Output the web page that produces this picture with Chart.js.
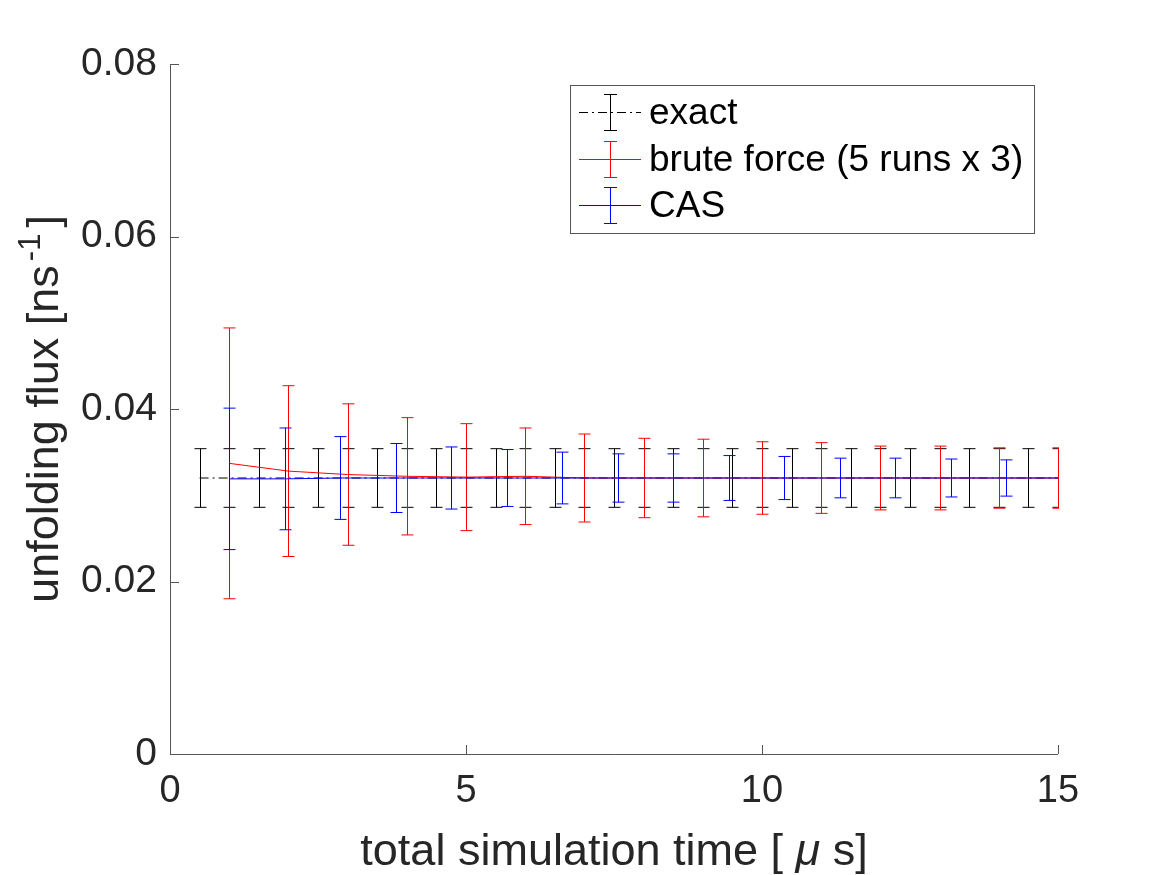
<!DOCTYPE html>
<html lang="en">
<head>
    <meta charset="UTF-8">
    <title>Unfolding flux vs simulation time</title>
    <script src="https://cdn.jsdelivr.net/npm/chart.js"></script>
    <style>
        body { margin: 0; background: #ffffff; }
        #wrap { width: 1167px; height: 875px; }
    </style>
</head>
<body>
<div id="wrap"><canvas id="fluxChart"></canvas></div>
<script>
    // exact solution, sampled every 0.5 us
    const exactX = [0.5, 1, 1.5, 2, 2.5, 3, 3.5, 4, 4.5, 5, 5.5, 6, 6.5, 7, 7.5, 8, 8.5, 9, 9.5, 10, 10.5, 11, 11.5, 12, 12.5, 13, 13.5, 14, 14.5, 15];
    const exactY = [0.032, 0.032, 0.032, 0.032, 0.032, 0.032, 0.032, 0.032, 0.032, 0.032, 0.032, 0.032, 0.032, 0.032, 0.032, 0.032, 0.032, 0.032, 0.032, 0.032, 0.032, 0.032, 0.032, 0.032, 0.032, 0.032, 0.032, 0.032, 0.032, 0.032];
    const exactErr = [0.0034, 0.0034, 0.0034, 0.0034, 0.0034, 0.0034, 0.0034, 0.0034, 0.0034, 0.0034, 0.0034, 0.0034, 0.0034, 0.0034, 0.0034, 0.0034, 0.0034, 0.0034, 0.0034, 0.0034, 0.0034, 0.0034, 0.0034, 0.0034, 0.0034, 0.0034, 0.0034, 0.0034, 0.0034, 0.0034];

    // brute force (5 runs x 3)
    const bruteX = [1, 2, 3, 4, 5, 6, 7, 8, 9, 10, 11, 12, 13, 14, 15];
    const bruteY = [0.0337, 0.0328, 0.0324, 0.0322, 0.0321, 0.0322, 0.0320, 0.0320, 0.0320, 0.0320, 0.0320, 0.0320, 0.0320, 0.0320, 0.0320];
    const bruteErr = [0.0157, 0.0099, 0.0082, 0.0068, 0.0062, 0.0056, 0.0051, 0.0046, 0.0045, 0.0042, 0.0041, 0.0037, 0.0037, 0.0035, 0.0035];

    // CAS
    const casX = [1, 1.9375, 2.875, 3.8125, 4.75, 5.6875, 6.625, 7.5625, 8.5, 9.4375, 10.375, 11.3125, 12.25, 13.1875, 14.125, 15.0625];
    const casY = [0.0319, 0.0319, 0.0320, 0.0320, 0.0320, 0.0320, 0.0320, 0.0320, 0.0320, 0.0320, 0.0320, 0.0320, 0.0320, 0.0320, 0.0320, 0.0320];
    const casErr = [0.0082, 0.0059, 0.0048, 0.0040, 0.0036, 0.0033, 0.0030, 0.0028, 0.0028, 0.0026, 0.0025, 0.0023, 0.0023, 0.0022, 0.0021, null];

    const xTicks = [0, 5, 10, 15];
    const yTicks = [0, 0.02, 0.04, 0.06, 0.08];

    const FONT = '"Liberation Sans", Arial, Helvetica, sans-serif';
    const TEXT = '#262626';
    const AXIS = '#555555';

    function points(xs, ys, es) {
        return xs.map((x, i) => ({ x: x, y: ys[i], err: es[i] }));
    }

    const series = [
        { label: 'exact', color: '#000000', dash: [9, 4, 2, 4], x: exactX, y: exactY, e: exactErr },
        { label: 'brute force (5 runs x 3)', color: '#ff0000', dash: [], x: bruteX, y: bruteY, e: bruteErr },
        { label: 'CAS', color: '#0000ff', dash: [], x: casX, y: casY, e: casErr }
    ];

    // vertical error bars with caps, drawn right after each dataset
    const errorBars = {
        id: 'errorBars',
        afterDatasetDraw(chart, args) {
            const ctx = chart.ctx;
            const area = chart.chartArea;
            const xs = chart.scales.x, ys = chart.scales.y;
            const ds = chart.data.datasets[args.index];
            ctx.save();
            ctx.beginPath();
            ctx.rect(area.left, area.top - 1, area.right - area.left + 1, area.bottom - area.top + 2);
            ctx.clip();
            ctx.strokeStyle = ds.borderColor;
            ctx.lineWidth = 1;
            ds.data.forEach(p => {
                if (p.err == null) return;
                const px = Math.round(xs.getPixelForValue(p.x)) + 0.5;
                const top = ys.getPixelForValue(p.y + p.err);
                const bot = ys.getPixelForValue(p.y - p.err);
                ctx.beginPath();
                ctx.moveTo(px, top); ctx.lineTo(px, bot);
                ctx.moveTo(px - 6, top); ctx.lineTo(px + 6, top);
                ctx.moveTo(px - 6, bot); ctx.lineTo(px + 6, bot);
                ctx.stroke();
            });
            ctx.restore();
        }
    };

    // MATLAB-like axes: inward ticks, axis titles and legend box
    const decorations = {
        id: 'decorations',
        afterDraw(chart) {
            const ctx = chart.ctx;
            const a = chart.chartArea;
            const xs = chart.scales.x, ys = chart.scales.y;
            ctx.save();
            ctx.strokeStyle = AXIS;
            ctx.lineWidth = 1;
            ctx.beginPath();
            ctx.moveTo(Math.round(a.left) + 0.5, a.top);
            ctx.lineTo(Math.round(a.left) + 0.5, Math.round(a.bottom) + 0.5);
            ctx.lineTo(a.right, Math.round(a.bottom) + 0.5);
            xTicks.forEach(v => {
                const px = Math.round(xs.getPixelForValue(v)) + 0.5;
                ctx.moveTo(px, a.bottom); ctx.lineTo(px, a.bottom - 9);
            });
            yTicks.forEach(v => {
                const py = Math.round(ys.getPixelForValue(v)) + 0.5;
                ctx.moveTo(a.left, py); ctx.lineTo(a.left + 9, py);
            });
            ctx.stroke();

            // x title with italic mu
            ctx.fillStyle = TEXT;
            ctx.textBaseline = 'alphabetic';
            ctx.textAlign = 'left';
            const tf = '45px ' + FONT, tfi = 'italic 45px ' + FONT;
            const p1 = 'total simulation time [ ', p2 = '\u03bc', p3 = ' s]';
            ctx.font = tf;
            const w1 = ctx.measureText(p1).width, w3 = ctx.measureText(p3).width;
            ctx.font = tfi;
            const w2 = ctx.measureText(p2).width;
            let x0 = (a.left + a.right) / 2 - (w1 + w2 + w3) / 2;
            const by = 865;
            ctx.font = tf; ctx.fillText(p1, x0, by);
            ctx.font = tfi; ctx.fillText(p2, x0 + w1, by);
            ctx.font = tf; ctx.fillText(p3, x0 + w1 + w2, by);

            // y title with superscript -1
            ctx.save();
            ctx.translate(58, (a.top + a.bottom) / 2);
            ctx.rotate(-Math.PI / 2);
            const s1 = 'unfolding flux [ns', s2 = '-1', s3 = ']';
            const sf = '31px ' + FONT;
            ctx.font = tf;
            const u1 = ctx.measureText(s1).width, u3 = ctx.measureText(s3).width;
            ctx.font = sf;
            const u2 = ctx.measureText(s2).width;
            x0 = -(u1 + u2 + u3 + 10) / 2;
            ctx.font = tf; ctx.fillText(s1, x0, 0);
            ctx.font = sf; ctx.fillText(s2, x0 + u1 + 4, -18);
            ctx.font = tf; ctx.fillText(s3, x0 + u1 + u2 + 10, 0);
            ctx.restore();

            // legend
            const lx = 570.5, ly = 85.5, lw = 464, lh = 148;
            ctx.fillStyle = '#ffffff';
            ctx.fillRect(lx, ly, lw, lh);
            ctx.strokeStyle = AXIS;
            ctx.strokeRect(lx, ly, lw, lh);
            const rows = [112.5, 159.5, 205.5];
            series.forEach((s, i) => {
                const cy = rows[i];
                ctx.strokeStyle = s.color;
                ctx.lineWidth = 1;
                ctx.setLineDash(s.dash);
                ctx.beginPath();
                ctx.moveTo(579, cy); ctx.lineTo(641, cy);
                ctx.stroke();
                ctx.setLineDash([]);
                ctx.beginPath();
                ctx.moveTo(610.5, cy - 18); ctx.lineTo(610.5, cy + 18);
                ctx.moveTo(604, cy - 18); ctx.lineTo(617, cy - 18);
                ctx.moveTo(604, cy + 18); ctx.lineTo(617, cy + 18);
                ctx.stroke();
                ctx.fillStyle = '#000000';
                ctx.font = '37px ' + FONT;
                ctx.textBaseline = 'middle';
                ctx.fillText(s.label, 649, cy + 1);
            });
            ctx.restore();
        }
    };

    new Chart(document.getElementById('fluxChart'), {
        type: 'line',
        data: {
            datasets: series.map((s, i) => ({
                label: s.label,
                data: points(s.x, s.y, s.e),
                borderColor: s.color,
                borderWidth: 1,
                borderDash: s.dash,
                pointRadius: 0,
                fill: false,
                tension: 0,
                order: 2 - i
            }))
        },
        options: {
            responsive: true,
            maintainAspectRatio: false,
            animation: false,
            layout: { padding: { top: 64, right: 109, left: 0, bottom: 0 } },
            plugins: { legend: { display: false }, tooltip: { enabled: false } },
            scales: {
                x: {
                    type: 'linear', min: 0, max: 15,
                    grid: { display: false, drawTicks: false },
                    border: { display: false },
                    ticks: { stepSize: 5, color: TEXT, padding: 15, font: { size: 38, family: FONT }, maxRotation: 0 },
                    afterFit(scale) { scale.height = 121; }
                },
                y: {
                    type: 'linear', min: 0, max: 0.08,
                    grid: { display: false, drawTicks: false },
                    border: { display: false },
                    ticks: { stepSize: 0.02, color: TEXT, padding: 13, font: { size: 39, family: FONT },
                        callback: v => v === 0 ? '0' : v.toFixed(2) },
                    afterFit(scale) { scale.width = 170; }
                }
            }
        },
        plugins: [errorBars, decorations]
    });
</script>
</body>
</html>
